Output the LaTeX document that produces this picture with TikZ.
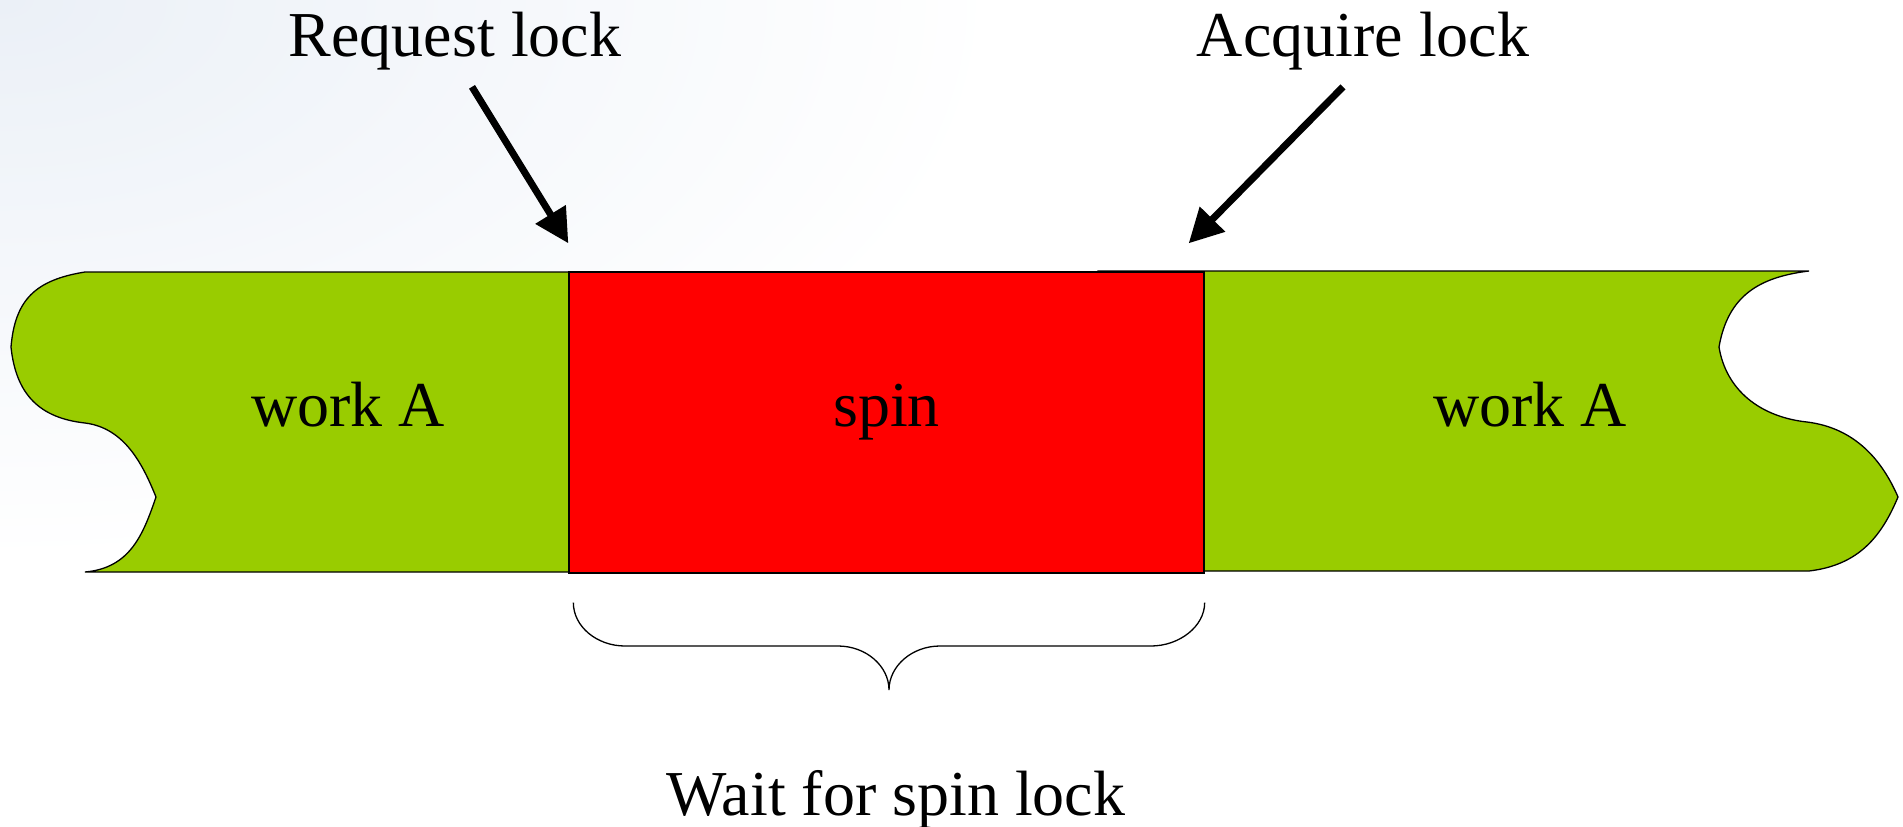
\documentclass[tikz,border=0pt]{standalone}
\usepackage{fontspec}
\setmainfont{Liberation Serif}
\usetikzlibrary{arrows.meta}
\definecolor{workgreen}{RGB}{153,204,0}
\definecolor{spinred}{RGB}{255,0,0}
\definecolor{bgblue}{RGB}{235,240,247}
\begin{document}
\begin{tikzpicture}[x=1pt,y=-1pt,
		lbl/.style={anchor=base,inner sep=2pt,font=\fontsize{64}{77}\selectfont},
		workpart/.style={fill=workgreen,draw=black,line width=1.3pt},
		lockarrow/.style={line width=7pt,-{Triangle[length=34pt,width=34pt]}}]
			\useasboundingbox (0,0) rectangle (1903,827);
			\begin{scope}
				\clip (0,0) rectangle (1903,827);
				\shade[inner color=bgblue,outer color=white] (0,0) ellipse [x radius=1000, y radius=560];
			\end{scope}
			
			\path[workpart] (661,272) -- (85,272) .. controls (35,280) and (15,300) .. (11,347)
				.. controls (16,395) and (40,418) .. (85,423)
				.. controls (125,428) and (143,465) .. (156,497)
				.. controls (143,535) and (130,568) .. (85,572) -- (661,572) -- cycle;
			\path[workpart] (1098,271) -- (1809,271) .. controls (1760,277) and (1728,295) .. (1719,347)
				.. controls (1726,390) and (1760,417) .. (1807,422)
				.. controls (1855,428) and (1882,460) .. (1898,497)
				.. controls (1882,535) and (1860,565) .. (1809,571) -- (1098,571) -- cycle;
			
			\node[draw=black,fill=spinred,line width=1.3pt,minimum width=635pt,minimum height=301pt,inner sep=0pt] (spin) at (886.5,422.5) {};
			
			\node[lbl] (workL)  at (348,426)   {work A};
			\node[lbl] (spintext) at (886.5,426) {spin};
			\node[lbl] (workR)  at (1530,426)  {work A};
			
			\node[lbl] (req) at (455,56)  {Request lock};
			\node[lbl] (acq) at (1363,56) {Acquire lock};
			\node[lbl] (wait) at (896,815) {Wait for spin lock};
			
			\coordinate (reqtip) at ([yshift=28pt]spin.north west);
			\coordinate (acqtip) at ([xshift=-16pt,yshift=28pt]spin.north east);
			\draw[lockarrow] ([xshift=17pt,yshift=-15pt]req.south) -- (reqtip);
			\draw[lockarrow] ([xshift=-20pt,yshift=-15pt]acq.south) -- (acqtip);
			
			% brace under the spin part
			\coordinate (braceL) at ([xshift=5pt,yshift=-29pt]spin.south west);
			\coordinate (braceR) at ([yshift=-29pt]spin.south east);
			\coordinate (bracetip) at (889,690);
			\draw[line width=1.3pt] (braceL) .. controls +(0,24) and +(-28,0) .. (625,646) -- (838,646)
				.. controls +(28,0) and +(0,-24) .. (bracetip)
				.. controls +(0,-24) and +(-28,0) .. (940,646) -- (1151,646)
				.. controls +(28,0) and +(0,24) .. (braceR);
		\end{tikzpicture}
\end{document}
